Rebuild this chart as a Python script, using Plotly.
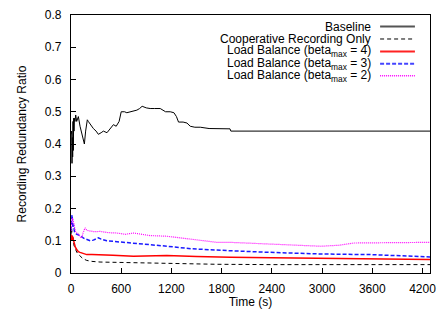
import plotly.graph_objects as go

# ---- data ----
base_t = [0, 4, 8, 12, 16, 20, 24, 28, 32, 36, 40, 48, 56, 68, 88, 108, 128, 148, 160, 175, 195, 207, 230, 267, 300, 327, 360, 387, 430, 467, 507, 540, 575, 600, 640, 667, 720, 787, 820, 850, 900, 946, 1000, 1066, 1130, 1186, 1230, 1260, 1285, 1340, 1386, 1425, 1480, 1545, 1650, 1745, 1900, 1910, 4290]
base_v = [0.43, 0.37, 0.44, 0.34, 0.42, 0.36, 0.47, 0.38, 0.48, 0.44, 0.48, 0.47, 0.49, 0.47, 0.485, 0.455, 0.43, 0.41, 0.40, 0.44, 0.475, 0.47, 0.46, 0.448, 0.44, 0.43, 0.435, 0.44, 0.435, 0.447, 0.46, 0.455, 0.47, 0.50, 0.50, 0.497, 0.50, 0.505, 0.51, 0.517, 0.512, 0.51, 0.51, 0.51, 0.50, 0.50, 0.497, 0.485, 0.468, 0.468, 0.465, 0.455, 0.452, 0.452, 0.448, 0.447, 0.447, 0.44, 0.44]

coop_t = [0, 8, 16, 24, 36, 48, 68, 88, 108, 140, 188, 250, 347, 500, 746, 1000, 1145, 1500, 1745, 2400, 3000, 3600, 4290]
coop_v = [0.12, 0.14, 0.10, 0.11, 0.085, 0.075, 0.065, 0.058, 0.052, 0.045, 0.039, 0.036, 0.034, 0.033, 0.032, 0.030, 0.029, 0.028, 0.027, 0.026, 0.026, 0.026, 0.026]

lb4_t = [0, 8, 16, 28, 40, 52, 68, 88, 108, 128, 160, 188, 250, 347, 500, 746, 1000, 1145, 1500, 1745, 1904, 2400, 2982, 3600, 4290]
lb4_v = [0.12, 0.10, 0.115, 0.10, 0.09, 0.08, 0.073, 0.066, 0.064, 0.062, 0.058, 0.057, 0.057, 0.057, 0.055, 0.052, 0.053, 0.054, 0.051, 0.049, 0.049, 0.047, 0.045, 0.044, 0.042]

lb3_t = [0, 6, 12, 16, 22, 30, 40, 48, 70, 108, 150, 188, 230, 267, 300, 327, 360, 427, 550, 746, 950, 1145, 1450, 1745, 1904, 2383, 2982, 3581, 4290]
lb3_v = [0.13, 0.16, 0.18, 0.17, 0.14, 0.15, 0.13, 0.124, 0.12, 0.116, 0.108, 0.103, 0.10, 0.102, 0.106, 0.109, 0.105, 0.10, 0.097, 0.093, 0.088, 0.083, 0.075, 0.07, 0.069, 0.064, 0.059, 0.057, 0.05]

lb2_t = [0, 8, 16, 28, 40, 52, 68, 90, 110, 128, 145, 168, 190, 227, 280, 347, 450, 547, 650, 746, 850, 946, 1145, 1400, 1745, 1904, 2383, 2700, 2982, 3200, 3382, 3800, 4290]
lb2_v = [0.13, 0.15, 0.17, 0.16, 0.14, 0.13, 0.124, 0.12, 0.112, 0.109, 0.125, 0.14, 0.132, 0.13, 0.128, 0.129, 0.125, 0.124, 0.12, 0.124, 0.12, 0.116, 0.114, 0.105, 0.095, 0.095, 0.09, 0.087, 0.083, 0.086, 0.093, 0.094, 0.095]

series_names = ["Baseline", "Cooperative Recording Only",
                "Load Balance (beta<sub>max</sub> = 4)",
                "Load Balance (beta<sub>max</sub> = 3)",
                "Load Balance (beta<sub>max</sub> = 2)"]
x_ticks = [0, 600, 1200, 1800, 2400, 3000, 3600, 4200]
y_ticks = [0, 0.1, 0.2, 0.3, 0.4, 0.5, 0.6, 0.7, 0.8]

# ---- styles ----
styles = [
    dict(color="black", width=1, dash="solid"),
    dict(color="black", width=1, dash="4px,3px"),
    dict(color="#ff0000", width=1.5, dash="solid"),
    dict(color="#1a1aff", width=1.5, dash="4px,2px"),
    dict(color="#ff00ff", width=1.2, dash="1px,1px"),
]
legend_styles = [
    dict(color="#555555", width=2, dash="solid"),
    dict(color="black", width=1, dash="4px,3px"),
    dict(color="#ff2222", width=2, dash="solid"),
    dict(color="#4444ff", width=2, dash="4px,2px"),
    dict(color="#ff00ff", width=1.5, dash="1px,1px"),
]

FONT = "Liberation Sans, Arial, sans-serif"
FS = 12

fig = go.Figure()
data = [(base_t, base_v), (coop_t, coop_v), (lb4_t, lb4_v), (lb3_t, lb3_v), (lb2_t, lb2_v)]
for (t, v), name, st in zip(data, series_names, styles):
    fig.add_trace(go.Scatter(x=t, y=v, mode="lines", name=name, line=st,
                             showlegend=False))

# manual gnuplot-style legend (text right, sample on right)
rows_y = [0.955, 0.907, 0.859, 0.811, 0.765]
for name, st, yy in zip(series_names, legend_styles, rows_y):
    fig.add_annotation(x=0.84, y=yy, xref="paper", yref="paper", text=name,
                       showarrow=False, xanchor="right", yanchor="middle",
                       font=dict(family=FONT, size=FS, color="black"))
    fig.add_shape(type="line", xref="paper", yref="paper",
                  x0=0.861, x1=0.958, y0=yy, y1=yy, line=st)

fig.update_layout(
    width=438, height=309,
    margin=dict(l=71, r=8, t=15, b=36),
    paper_bgcolor="white", plot_bgcolor="white",
    font=dict(family=FONT, size=FS, color="black"),
    showlegend=False,
)
fig.update_xaxes(range=[0, 4290], tickvals=x_ticks, ticktext=[str(v) for v in x_ticks],
                 ticks="inside", ticklen=5, tickcolor="black", tickwidth=1,
                 showline=True, mirror=True, linecolor="black", linewidth=1.3,
                 showgrid=False, zeroline=False, ticklabelstandoff=4, automargin=False,
                 title=dict(text="Time (s)", standoff=4, font=dict(size=FS)))
fig.update_yaxes(range=[0, 0.8], tickvals=y_ticks,
                 ticktext=["0" if v == 0 else f"{v:.1f}" for v in y_ticks],
                 ticks="inside", ticklen=5, tickcolor="black", tickwidth=1,
                 showline=True, mirror=True, linecolor="black", linewidth=1.3,
                 showgrid=False, zeroline=False, ticklabelstandoff=6, automargin=False,
                 title=dict(text="Recording Redundancy Ratio", standoff=15, font=dict(size=FS)))

# remove the default 8px body margin so the figure fills the 438x309 window
fig.write_html("out.html", config={"displayModeBar": False},
               post_script="document.body.style.margin='0';document.body.style.overflow='hidden';")
